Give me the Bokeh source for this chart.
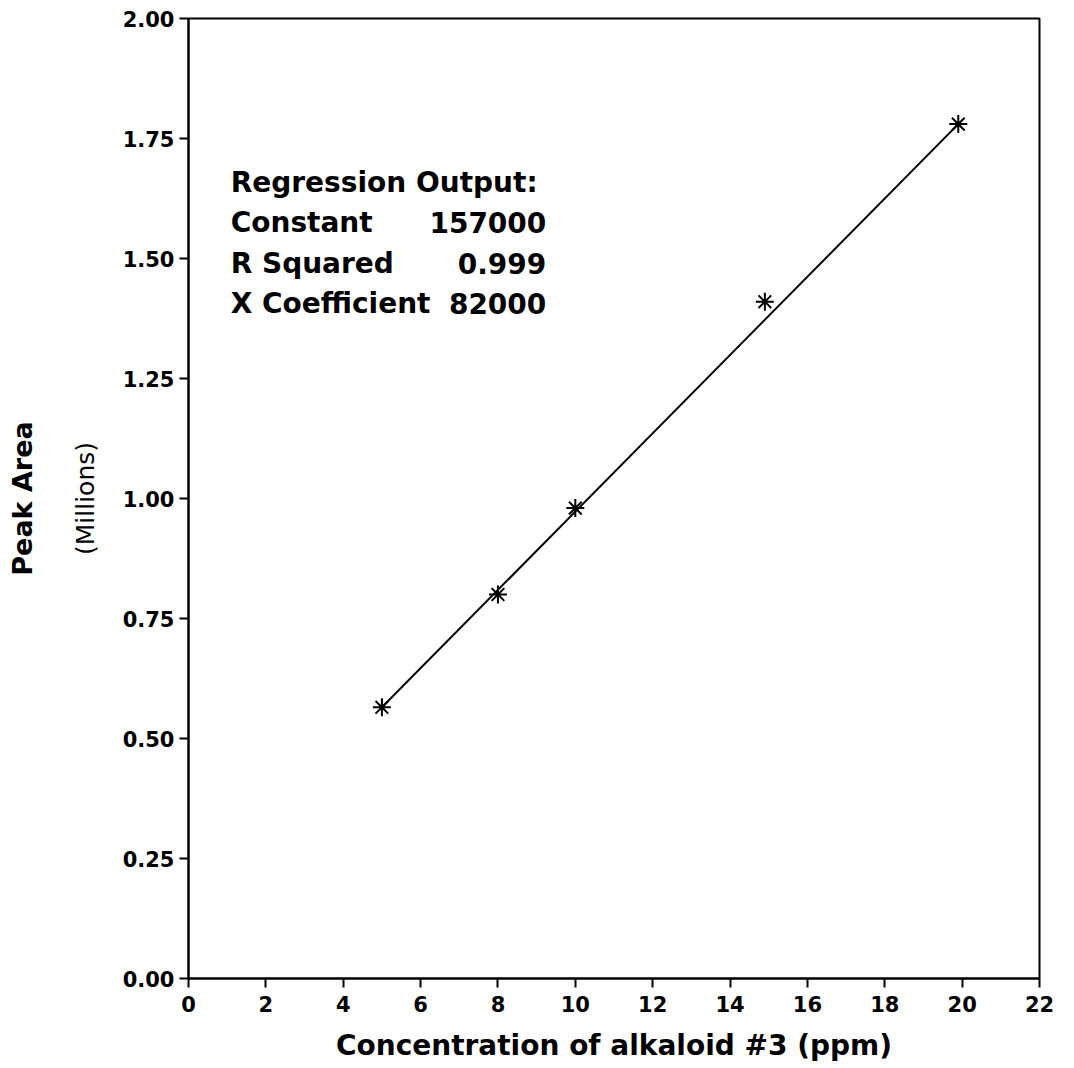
from bokeh.plotting import figure
from bokeh.models import Range1d, FixedTicker, NumeralTickFormatter, LinearAxis
from bokeh.embed import file_html
from bokeh.resources import INLINE
from bokeh.core.properties import value

# ---- data ----
conc_ppm = [5.0, 8.0, 10.0, 14.9, 19.9]
peak_area_millions = [0.565, 0.80, 0.98, 1.41, 1.78]
fit_x = [5.0, 19.9]
fit_y = [0.565, 1.78]
x_ticks = [0, 2, 4, 6, 8, 10, 12, 14, 16, 18, 20, 22]
y_ticks = [0.0, 0.25, 0.5, 0.75, 1.0, 1.25, 1.5, 1.75, 2.0]
reg_labels = ["Regression Output:", "Constant", "R Squared", "X Coefficient"]
reg_values = ["", "157000", "0.999", "82000"]
x_title = "Concentration of alkaloid #3 (ppm)"
y_title = "Peak Area"
y_subtitle = "(Millions)"

FONT = "DejaVu Sans"

p = figure(width=1072, height=1066, output_backend="svg", toolbar_location=None,
           x_range=Range1d(0, 22), y_range=Range1d(0, 2),
           min_border_left=188, min_border_right=33, min_border_top=18, min_border_bottom=88)
p.background_fill_color = "white"
p.border_fill_color = "white"
p.outline_line_color = "black"
p.outline_line_width = 2
p.xgrid.visible = False
p.ygrid.visible = False

for ax in (p.xaxis[0], p.yaxis[0]):
    ax.axis_line_width = 2
    ax.axis_line_color = "black"
    ax.major_tick_line_width = 2
    ax.major_tick_line_color = "black"
    ax.major_tick_in = 0
    ax.major_tick_out = 9
    ax.minor_tick_line_color = None
    ax.major_label_text_font = FONT
    ax.major_label_text_font_style = "bold"
    ax.major_label_text_font_size = "21px"
    ax.major_label_text_color = "black"
    ax.axis_label_text_color = "black"
    ax.axis_label_text_font = FONT

p.xaxis.ticker = FixedTicker(ticks=x_ticks)
p.yaxis.ticker = FixedTicker(ticks=y_ticks)
p.yaxis.formatter = NumeralTickFormatter(format="0.00")
p.xaxis.major_label_standoff = 8
p.yaxis.major_label_standoff = 5

p.xaxis.axis_label = x_title
p.xaxis.axis_label_text_font_style = "bold"
p.xaxis.axis_label_text_font_size = "28px"
p.xaxis.axis_label_standoff = 14

p.yaxis.axis_label = y_subtitle
p.yaxis.axis_label_text_font_style = "normal"
p.yaxis.axis_label_text_font_size = "25px"
p.yaxis.axis_label_standoff = 20

outer = LinearAxis(axis_label=y_title, ticker=FixedTicker(ticks=[]),
                   axis_line_color=None, major_tick_line_color=None,
                   minor_tick_line_color=None, major_tick_out=0, minor_tick_out=0,
                   major_label_standoff=0, axis_label_standoff=30,
                   axis_label_text_font=FONT, axis_label_text_font_style="bold",
                   axis_label_text_font_size="27px", axis_label_text_color="black")
p.add_layout(outer, "left")

# fitted line and data points
p.line(fit_x, fit_y, line_color="black", line_width=2)
p.scatter(conc_ppm, peak_area_millions, marker="asterisk", size=18,
          line_color="black", line_width=2)

# regression text block
line_ys = [1.658, 1.575, 1.490, 1.406]
p.text(x=[1.09] * 4, y=line_ys, text=reg_labels,
       text_font=value(FONT), text_font_style="bold", text_font_size="28px",
       text_baseline="middle", text_align="left", text_color="black")
p.text(x=[9.25] * 4, y=line_ys, text=reg_values,
       text_font=value(FONT), text_font_style="bold", text_font_size="28px",
       text_baseline="middle", text_align="right", text_color="black")

open("out.html", "w").write(file_html(p, INLINE))
